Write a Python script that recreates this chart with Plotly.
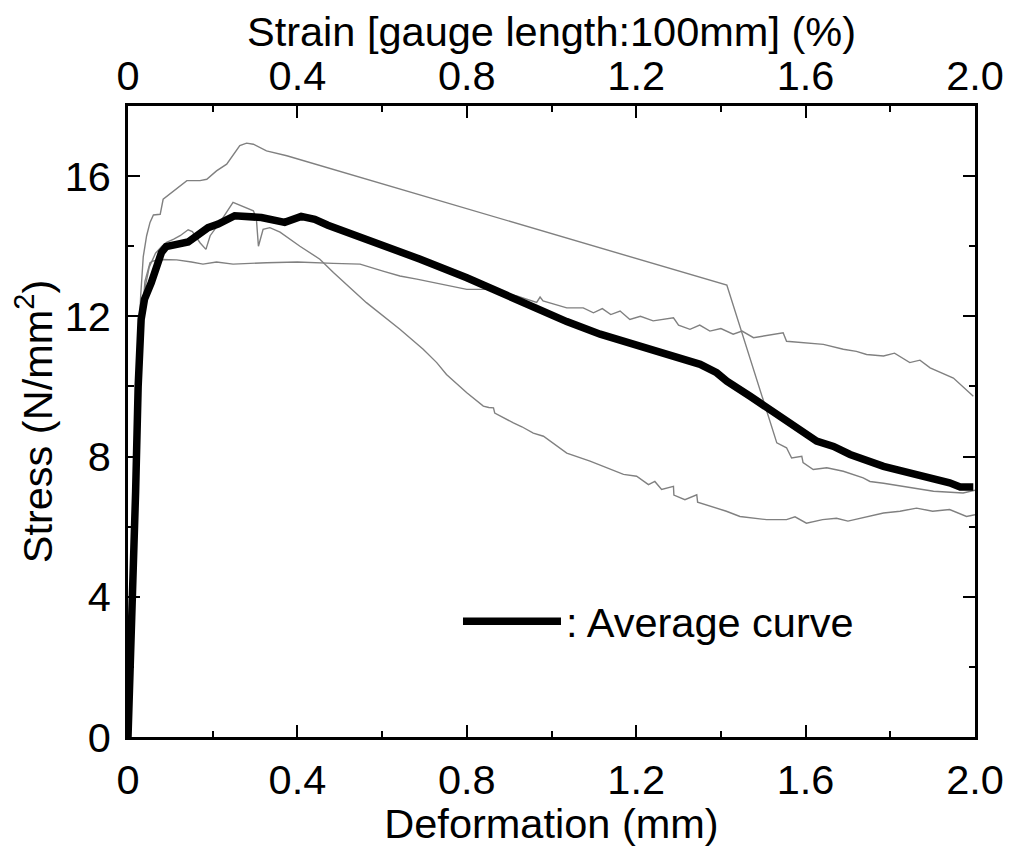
import plotly.graph_objects as go

# Deformation (mm) / Stress (N/mm2)
A_x = [0, 0.008, 0.016, 0.024, 0.030, 0.036, 0.044, 0.052, 0.060, 0.068,
       0.076, 0.083, 0.099, 0.12, 0.139, 0.17, 0.186, 0.209, 0.233, 0.264,
       0.28, 0.296, 0.327, 0.375, 1.414, 1.532, 1.555, 1.567, 1.591, 1.594,
       1.618, 1.65, 1.689, 1.736, 1.752, 1.784, 1.862, 1.902, 1.972, 2.0]
A_y = [0, 3.5, 7.5, 11, 12.6, 13.7, 14.3, 14.68, 14.89, 14.9,
       14.91, 15.34, 15.49, 15.7, 15.87, 15.87, 15.91, 16.15, 16.34, 16.87,
       16.94, 16.91, 16.72, 16.58, 12.89, 8.39, 8.25, 7.96, 8.01, 7.83,
       7.63, 7.68, 7.58, 7.39, 7.29, 7.24, 7.1, 7.01, 6.96, 7.04]

B_x = [0, 0.01, 0.02, 0.03, 0.04, 0.05, 0.065, 0.08, 0.091, 0.108,
       0.123, 0.142, 0.152, 0.17, 0.184, 0.194, 0.217, 0.248, 0.258, 0.28,
       0.296, 0.303, 0.308, 0.319, 0.335, 0.359, 0.406, 0.453, 0.485, 0.563,
       0.642, 0.697, 0.729, 0.752, 0.80, 0.839, 0.852, 0.863, 0.866, 0.91,
       0.93, 0.957, 0.981, 1.036, 1.091, 1.17, 1.201, 1.229, 1.244, 1.26,
       1.288, 1.289, 1.315, 1.343, 1.345, 1.413, 1.445, 1.508, 1.555, 1.575,
       1.602, 1.64, 1.673, 1.70, 1.744, 1.784, 1.823, 1.862, 1.90, 1.94,
       1.98, 2.0]
B_y = [0, 4.5, 8.5, 11.5, 12.8, 13.4, 13.8, 14.0, 14.11, 14.2,
       14.3, 14.47, 14.42, 14.1, 13.91, 14.3, 14.68, 15.25, 15.2, 15.1,
       15.01, 14.8, 14.0, 14.48, 14.53, 14.4, 14.0, 13.63, 13.25, 12.39,
       11.63, 11.06, 10.68, 10.34, 9.82, 9.44, 9.40, 9.39, 9.24, 8.96,
       8.85, 8.67, 8.58, 8.1, 7.87, 7.49, 7.44, 7.2, 7.29, 7.06,
       7.15, 6.9, 6.77, 6.91, 6.7, 6.44, 6.29, 6.2, 6.2, 6.28,
       6.1, 6.2, 6.24, 6.16, 6.29, 6.39, 6.44, 6.53, 6.44, 6.49,
       6.29, 6.34]

C_x = [0, 0.01, 0.02, 0.03, 0.04, 0.052, 0.06, 0.08, 0.115, 0.15,
       0.177, 0.209, 0.248, 0.327, 0.40, 0.485, 0.548, 0.602, 0.642, 0.682,
       0.72, 0.76, 0.80, 0.847, 0.918, 0.965, 0.973, 0.98, 1.036, 1.075,
       1.099, 1.12, 1.14, 1.162, 1.185, 1.21, 1.24, 1.288, 1.30, 1.327,
       1.35, 1.374, 1.40, 1.429, 1.45, 1.477, 1.51, 1.547, 1.555, 1.587,
       1.642, 1.689, 1.72, 1.744, 1.784, 1.81, 1.846, 1.87, 1.894, 1.949,
       1.996]
C_y = [0, 4.5, 8.5, 11.5, 13.0, 13.53, 13.58, 13.62, 13.61, 13.55,
       13.49, 13.55, 13.49, 13.53, 13.55, 13.51, 13.49, 13.29, 13.15, 13.06,
       12.96, 12.87, 12.77, 12.77, 12.58, 12.40, 12.55, 12.44, 12.24, 12.24,
       12.1, 12.22, 12.05, 12.15, 11.91, 12.0, 11.87, 11.96, 11.75, 11.63,
       11.75, 11.58, 11.65, 11.49, 11.58, 11.39, 11.45, 11.53, 11.29, 11.25,
       11.2, 11.06, 11.0, 10.91, 10.87, 10.95, 10.68, 10.75, 10.53, 10.24,
       9.72]

AVG_x = [0, 0.006, 0.012, 0.018, 0.024, 0.031, 0.039, 0.055, 0.079, 0.09,
         0.142, 0.157, 0.189, 0.213, 0.252, 0.315, 0.37, 0.409, 0.441, 0.472,
         0.563, 0.642, 0.69, 0.80, 0.878, 0.926, 1.036, 1.115, 1.193, 1.272,
         1.351, 1.39, 1.414, 1.469, 1.508, 1.547, 1.587, 1.626, 1.666, 1.705,
         1.784, 1.862, 1.90, 1.94, 1.965, 1.996]
AVG_y = [0, 2, 4, 7, 10, 11.91, 12.49, 12.96, 13.82, 13.99,
         14.12, 14.25, 14.53, 14.63, 14.87, 14.82, 14.68, 14.85, 14.77, 14.6,
         14.2, 13.85, 13.63, 13.1, 12.68, 12.44, 11.85, 11.49, 11.22, 10.95,
         10.63, 10.39, 10.15, 9.72, 9.39, 9.06, 8.77, 8.44, 8.29, 8.06,
         7.72, 7.49, 7.34, 7.25, 7.13, 7.13]

X_TICKS = [0, 0.4, 0.8, 1.2, 1.6, 2.0]
X_TICKTEXT = ["0", "0.4", "0.8", "1.2", "1.6", "2.0"]
Y_TICKS = [0, 4, 8, 12, 16]

FONT = "Liberation Sans, Arial, sans-serif"
FS = 41.5
GRAY = "#808080"

fig = go.Figure()
for xs, ys in [(A_x, A_y), (B_x, B_y), (C_x, C_y)]:
    fig.add_trace(go.Scatter(x=xs, y=ys, mode="lines",
                             line=dict(color=GRAY, width=1.4),
                             showlegend=False, hoverinfo="skip"))
fig.add_trace(go.Scatter(x=AVG_x, y=AVG_y, mode="lines",
                         line=dict(color="black", width=7.5),
                         name=": Average curve", showlegend=True))
# invisible trace to activate the top axis
fig.add_trace(go.Scatter(x=[0, 2.0], y=[0, 0], xaxis="x2", mode="lines",
                         line=dict(width=0), showlegend=False, hoverinfo="skip"))

tickfont = dict(family=FONT, size=FS, color="black")
common_x = dict(range=[0, 2.0], tickvals=X_TICKS, ticktext=X_TICKTEXT,
                ticks="inside", ticklen=12, tickwidth=2, tickcolor="black",
                showline=True, linewidth=2.5, linecolor="black",
                showgrid=False, zeroline=False, tickfont=tickfont,
                automargin=False,
                minor=dict(dtick=0.2, tick0=0, ticks="inside", ticklen=6,
                           tickwidth=2, tickcolor="black", showgrid=False))

# page body adds an 8px offset, so the figure is 8px smaller than the window
fig.update_layout(
    width=1015, height=839,
    margin=dict(l=120, r=48, t=98, b=110, autoexpand=False),
    paper_bgcolor="white", plot_bgcolor="white",
    font=dict(family=FONT, size=FS, color="black"),
    xaxis=dict(**common_x, ticklabelstandoff=4,
               title=dict(text="Deformation (mm)", standoff=4,
                          font=dict(family=FONT, size=FS))),
    xaxis2=dict(**common_x, overlaying="x", side="top", anchor="y",
                ticklabelstandoff=-3,
                title=dict(text="Strain [gauge length:100mm] (%)", standoff=1,
                           font=dict(family=FONT, size=FS))),
    yaxis=dict(range=[0, 18], tickvals=Y_TICKS, ticks="inside", ticklen=12,
               tickwidth=2, tickcolor="black", showline=True, linewidth=2.5,
               linecolor="black", mirror="ticks", showgrid=False, zeroline=False,
               tickfont=tickfont, ticklabelstandoff=6, automargin=False,
               minor=dict(dtick=2, tick0=0, ticks="inside", ticklen=6,
                          tickwidth=2, tickcolor="black", showgrid=False),
               title=dict(text="Stress (N/mm<sup>2</sup>)", standoff=0,
                          font=dict(family=FONT, size=FS))),
    legend=dict(x=0.3896, y=0.1834, xanchor="left", yanchor="middle",
                bgcolor="rgba(0,0,0,0)", itemwidth=98,
                font=dict(family=FONT, size=FS, color="black")),
)

fig.write_html("out.html")
